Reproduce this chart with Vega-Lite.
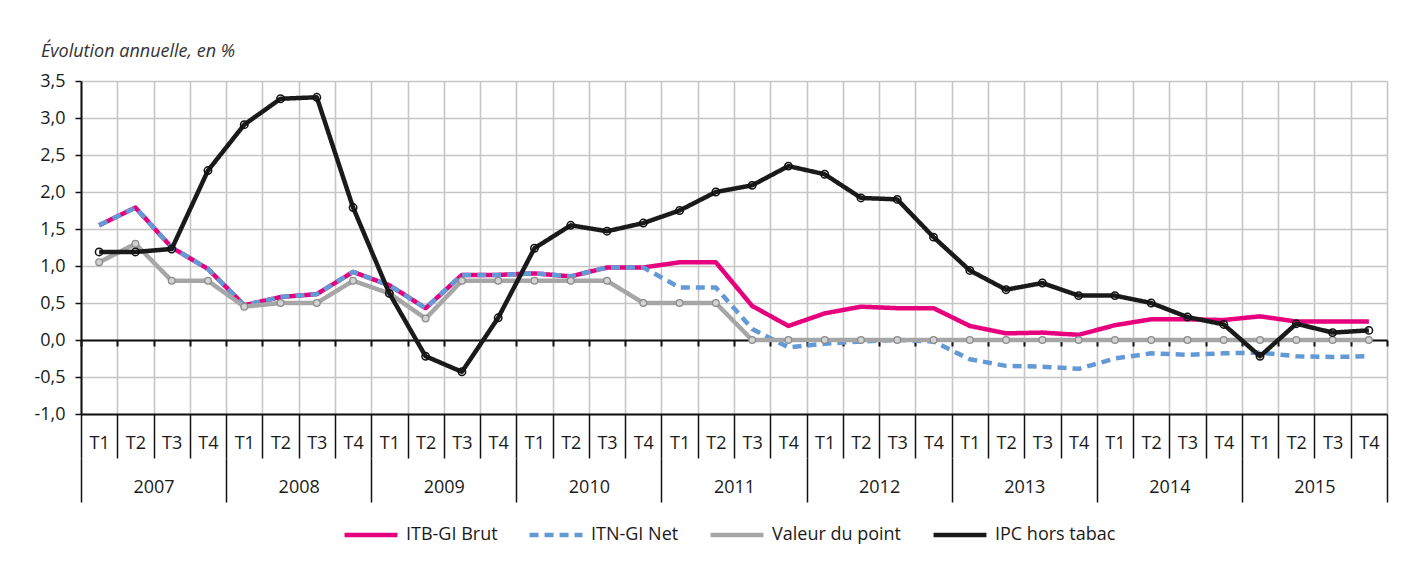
{
  "$schema": "https://vega.github.io/schema/vega-lite/v6.json",
  "width": 1306,
  "height": 333,
  "padding": {"left": 33, "top": 43, "right": 10, "bottom": 5},
  "background": "white",
  "title": {"text": "Évolution annuelle, en %", "anchor": "start", "frame": "bounds", "dx": 7, "fontStyle": "italic", "fontWeight": "normal", "fontSize": 18, "font": "Open Sans", "color": "#333333", "offset": 11},
  "data": {"values": [
    {"q":"2007-T1","yr":"2007","s":"ITB-GI Brut","v":1.55},{"q":"2007-T2","yr":"2007","s":"ITB-GI Brut","v":1.79},{"q":"2007-T3","yr":"2007","s":"ITB-GI Brut","v":1.25},{"q":"2007-T4","yr":"2007","s":"ITB-GI Brut","v":0.96},
    {"q":"2008-T1","yr":"2008","s":"ITB-GI Brut","v":0.47},{"q":"2008-T2","yr":"2008","s":"ITB-GI Brut","v":0.58},{"q":"2008-T3","yr":"2008","s":"ITB-GI Brut","v":0.62},{"q":"2008-T4","yr":"2008","s":"ITB-GI Brut","v":0.92},
    {"q":"2009-T1","yr":"2009","s":"ITB-GI Brut","v":0.74},{"q":"2009-T2","yr":"2009","s":"ITB-GI Brut","v":0.43},{"q":"2009-T3","yr":"2009","s":"ITB-GI Brut","v":0.88},{"q":"2009-T4","yr":"2009","s":"ITB-GI Brut","v":0.88},
    {"q":"2010-T1","yr":"2010","s":"ITB-GI Brut","v":0.90},{"q":"2010-T2","yr":"2010","s":"ITB-GI Brut","v":0.86},{"q":"2010-T3","yr":"2010","s":"ITB-GI Brut","v":0.98},{"q":"2010-T4","yr":"2010","s":"ITB-GI Brut","v":0.98},
    {"q":"2011-T1","yr":"2011","s":"ITB-GI Brut","v":1.05},{"q":"2011-T2","yr":"2011","s":"ITB-GI Brut","v":1.05},{"q":"2011-T3","yr":"2011","s":"ITB-GI Brut","v":0.46},{"q":"2011-T4","yr":"2011","s":"ITB-GI Brut","v":0.19},
    {"q":"2012-T1","yr":"2012","s":"ITB-GI Brut","v":0.36},{"q":"2012-T2","yr":"2012","s":"ITB-GI Brut","v":0.45},{"q":"2012-T3","yr":"2012","s":"ITB-GI Brut","v":0.43},{"q":"2012-T4","yr":"2012","s":"ITB-GI Brut","v":0.43},
    {"q":"2013-T1","yr":"2013","s":"ITB-GI Brut","v":0.19},{"q":"2013-T2","yr":"2013","s":"ITB-GI Brut","v":0.09},{"q":"2013-T3","yr":"2013","s":"ITB-GI Brut","v":0.10},{"q":"2013-T4","yr":"2013","s":"ITB-GI Brut","v":0.07},
    {"q":"2014-T1","yr":"2014","s":"ITB-GI Brut","v":0.20},{"q":"2014-T2","yr":"2014","s":"ITB-GI Brut","v":0.28},{"q":"2014-T3","yr":"2014","s":"ITB-GI Brut","v":0.28},{"q":"2014-T4","yr":"2014","s":"ITB-GI Brut","v":0.27},
    {"q":"2015-T1","yr":"2015","s":"ITB-GI Brut","v":0.32},{"q":"2015-T2","yr":"2015","s":"ITB-GI Brut","v":0.25},{"q":"2015-T3","yr":"2015","s":"ITB-GI Brut","v":0.25},{"q":"2015-T4","yr":"2015","s":"ITB-GI Brut","v":0.25},

    {"q":"2007-T1","yr":"2007","s":"ITN-GI Net","v":1.55},{"q":"2007-T2","yr":"2007","s":"ITN-GI Net","v":1.79},{"q":"2007-T3","yr":"2007","s":"ITN-GI Net","v":1.25},{"q":"2007-T4","yr":"2007","s":"ITN-GI Net","v":0.96},
    {"q":"2008-T1","yr":"2008","s":"ITN-GI Net","v":0.47},{"q":"2008-T2","yr":"2008","s":"ITN-GI Net","v":0.58},{"q":"2008-T3","yr":"2008","s":"ITN-GI Net","v":0.62},{"q":"2008-T4","yr":"2008","s":"ITN-GI Net","v":0.92},
    {"q":"2009-T1","yr":"2009","s":"ITN-GI Net","v":0.74},{"q":"2009-T2","yr":"2009","s":"ITN-GI Net","v":0.43},{"q":"2009-T3","yr":"2009","s":"ITN-GI Net","v":0.88},{"q":"2009-T4","yr":"2009","s":"ITN-GI Net","v":0.88},
    {"q":"2010-T1","yr":"2010","s":"ITN-GI Net","v":0.90},{"q":"2010-T2","yr":"2010","s":"ITN-GI Net","v":0.86},{"q":"2010-T3","yr":"2010","s":"ITN-GI Net","v":0.98},{"q":"2010-T4","yr":"2010","s":"ITN-GI Net","v":0.98},
    {"q":"2011-T1","yr":"2011","s":"ITN-GI Net","v":0.71},{"q":"2011-T2","yr":"2011","s":"ITN-GI Net","v":0.71},{"q":"2011-T3","yr":"2011","s":"ITN-GI Net","v":0.15},{"q":"2011-T4","yr":"2011","s":"ITN-GI Net","v":-0.10},
    {"q":"2012-T1","yr":"2012","s":"ITN-GI Net","v":-0.05},{"q":"2012-T2","yr":"2012","s":"ITN-GI Net","v":-0.02},{"q":"2012-T3","yr":"2012","s":"ITN-GI Net","v":0.00},{"q":"2012-T4","yr":"2012","s":"ITN-GI Net","v":-0.02},
    {"q":"2013-T1","yr":"2013","s":"ITN-GI Net","v":-0.26},{"q":"2013-T2","yr":"2013","s":"ITN-GI Net","v":-0.35},{"q":"2013-T3","yr":"2013","s":"ITN-GI Net","v":-0.36},{"q":"2013-T4","yr":"2013","s":"ITN-GI Net","v":-0.39},
    {"q":"2014-T1","yr":"2014","s":"ITN-GI Net","v":-0.25},{"q":"2014-T2","yr":"2014","s":"ITN-GI Net","v":-0.18},{"q":"2014-T3","yr":"2014","s":"ITN-GI Net","v":-0.20},{"q":"2014-T4","yr":"2014","s":"ITN-GI Net","v":-0.18},
    {"q":"2015-T1","yr":"2015","s":"ITN-GI Net","v":-0.17},{"q":"2015-T2","yr":"2015","s":"ITN-GI Net","v":-0.22},{"q":"2015-T3","yr":"2015","s":"ITN-GI Net","v":-0.23},{"q":"2015-T4","yr":"2015","s":"ITN-GI Net","v":-0.22},

    {"q":"2007-T1","yr":"2007","s":"Valeur du point","v":1.05},{"q":"2007-T2","yr":"2007","s":"Valeur du point","v":1.3},{"q":"2007-T3","yr":"2007","s":"Valeur du point","v":0.8},{"q":"2007-T4","yr":"2007","s":"Valeur du point","v":0.8},
    {"q":"2008-T1","yr":"2008","s":"Valeur du point","v":0.45},{"q":"2008-T2","yr":"2008","s":"Valeur du point","v":0.5},{"q":"2008-T3","yr":"2008","s":"Valeur du point","v":0.5},{"q":"2008-T4","yr":"2008","s":"Valeur du point","v":0.8},
    {"q":"2009-T1","yr":"2009","s":"Valeur du point","v":0.63},{"q":"2009-T2","yr":"2009","s":"Valeur du point","v":0.29},{"q":"2009-T3","yr":"2009","s":"Valeur du point","v":0.8},{"q":"2009-T4","yr":"2009","s":"Valeur du point","v":0.8},
    {"q":"2010-T1","yr":"2010","s":"Valeur du point","v":0.8},{"q":"2010-T2","yr":"2010","s":"Valeur du point","v":0.8},{"q":"2010-T3","yr":"2010","s":"Valeur du point","v":0.8},{"q":"2010-T4","yr":"2010","s":"Valeur du point","v":0.5},
    {"q":"2011-T1","yr":"2011","s":"Valeur du point","v":0.5},{"q":"2011-T2","yr":"2011","s":"Valeur du point","v":0.5},{"q":"2011-T3","yr":"2011","s":"Valeur du point","v":0},{"q":"2011-T4","yr":"2011","s":"Valeur du point","v":0},
    {"q":"2012-T1","yr":"2012","s":"Valeur du point","v":0},{"q":"2012-T2","yr":"2012","s":"Valeur du point","v":0},{"q":"2012-T3","yr":"2012","s":"Valeur du point","v":0},{"q":"2012-T4","yr":"2012","s":"Valeur du point","v":0},
    {"q":"2013-T1","yr":"2013","s":"Valeur du point","v":0},{"q":"2013-T2","yr":"2013","s":"Valeur du point","v":0},{"q":"2013-T3","yr":"2013","s":"Valeur du point","v":0},{"q":"2013-T4","yr":"2013","s":"Valeur du point","v":0},
    {"q":"2014-T1","yr":"2014","s":"Valeur du point","v":0},{"q":"2014-T2","yr":"2014","s":"Valeur du point","v":0},{"q":"2014-T3","yr":"2014","s":"Valeur du point","v":0},{"q":"2014-T4","yr":"2014","s":"Valeur du point","v":0},
    {"q":"2015-T1","yr":"2015","s":"Valeur du point","v":0},{"q":"2015-T2","yr":"2015","s":"Valeur du point","v":0},{"q":"2015-T3","yr":"2015","s":"Valeur du point","v":0},{"q":"2015-T4","yr":"2015","s":"Valeur du point","v":0},

    {"q":"2007-T1","yr":"2007","s":"IPC hors tabac","v":1.19},{"q":"2007-T2","yr":"2007","s":"IPC hors tabac","v":1.19},{"q":"2007-T3","yr":"2007","s":"IPC hors tabac","v":1.23},{"q":"2007-T4","yr":"2007","s":"IPC hors tabac","v":2.29},
    {"q":"2008-T1","yr":"2008","s":"IPC hors tabac","v":2.91},{"q":"2008-T2","yr":"2008","s":"IPC hors tabac","v":3.26},{"q":"2008-T3","yr":"2008","s":"IPC hors tabac","v":3.28},{"q":"2008-T4","yr":"2008","s":"IPC hors tabac","v":1.79},
    {"q":"2009-T1","yr":"2009","s":"IPC hors tabac","v":0.63},{"q":"2009-T2","yr":"2009","s":"IPC hors tabac","v":-0.22},{"q":"2009-T3","yr":"2009","s":"IPC hors tabac","v":-0.43},{"q":"2009-T4","yr":"2009","s":"IPC hors tabac","v":0.30},
    {"q":"2010-T1","yr":"2010","s":"IPC hors tabac","v":1.24},{"q":"2010-T2","yr":"2010","s":"IPC hors tabac","v":1.55},{"q":"2010-T3","yr":"2010","s":"IPC hors tabac","v":1.47},{"q":"2010-T4","yr":"2010","s":"IPC hors tabac","v":1.58},
    {"q":"2011-T1","yr":"2011","s":"IPC hors tabac","v":1.75},{"q":"2011-T2","yr":"2011","s":"IPC hors tabac","v":2.00},{"q":"2011-T3","yr":"2011","s":"IPC hors tabac","v":2.09},{"q":"2011-T4","yr":"2011","s":"IPC hors tabac","v":2.35},
    {"q":"2012-T1","yr":"2012","s":"IPC hors tabac","v":2.24},{"q":"2012-T2","yr":"2012","s":"IPC hors tabac","v":1.92},{"q":"2012-T3","yr":"2012","s":"IPC hors tabac","v":1.90},{"q":"2012-T4","yr":"2012","s":"IPC hors tabac","v":1.39},
    {"q":"2013-T1","yr":"2013","s":"IPC hors tabac","v":0.94},{"q":"2013-T2","yr":"2013","s":"IPC hors tabac","v":0.68},{"q":"2013-T3","yr":"2013","s":"IPC hors tabac","v":0.77},{"q":"2013-T4","yr":"2013","s":"IPC hors tabac","v":0.60},
    {"q":"2014-T1","yr":"2014","s":"IPC hors tabac","v":0.60},{"q":"2014-T2","yr":"2014","s":"IPC hors tabac","v":0.50},{"q":"2014-T3","yr":"2014","s":"IPC hors tabac","v":0.31},{"q":"2014-T4","yr":"2014","s":"IPC hors tabac","v":0.21},
    {"q":"2015-T1","yr":"2015","s":"IPC hors tabac","v":-0.22},{"q":"2015-T2","yr":"2015","s":"IPC hors tabac","v":0.22},{"q":"2015-T3","yr":"2015","s":"IPC hors tabac","v":0.10},{"q":"2015-T4","yr":"2015","s":"IPC hors tabac","v":0.13}
  ]},
  "layer": [
    {
      "encoding": {
        "x": {"field": "q", "type": "ordinal", "scale": {"type": "band", "paddingInner": 0, "paddingOuter": 0}, "axis": null},
        "y": {"field": "v", "type": "quantitative", "title": null,
              "scale": {"domain": [-1, 3.5], "nice": false, "zero": false},
              "axis": {"values": [-1, -0.5, 0, 0.5, 1, 1.5, 2, 2.5, 3, 3.5], "format": ".1f", "title": null,
                       "grid": true, "gridColor": "#c6c6c6", "gridWidth": 1.6,
                       "domain": true, "domainColor": "#111111", "domainWidth": 2,
                       "ticks": true, "tickColor": "#111111", "tickSize": 6, "tickWidth": 1.5,
                       "labelFont": "Open Sans", "labelFontSize": 18, "labelColor": "#1a1a1a", "labelPadding": 10}}
      },
      "layer": [
        {
          "transform": [{"filter": "datum.s === 'ITB-GI Brut'"}],
          "mark": {"type": "line", "strokeJoin": "round"},
          "encoding": {
            "x": {"field": "q", "type": "ordinal", "scale": {"type": "band", "paddingInner": 0, "paddingOuter": 0},
                  "axis": {"orient": "bottom", "title": null, "tickBand": "extent", "labelExpr": "split(datum.value, '-')[1]",
                           "grid": true, "gridColor": "#c6c6c6", "gridWidth": 1.6,
                           "domain": true, "domainColor": "#111111", "domainWidth": 2,
                           "ticks": true, "tickColor": "#111111", "tickSize": 44, "tickWidth": 1.5,
                           "labelAngle": 0, "labelBaseline": "middle", "labelPadding": -15,
                           "labelFont": "Open Sans", "labelFontSize": 18, "labelColor": "#1a1a1a"}},
            "color": {"field": "s", "type": "nominal",
                      "scale": {"domain": ["ITB-GI Brut", "ITN-GI Net", "Valeur du point", "IPC hors tabac"], "range": ["#e6007e", "#639ad6", "#a6a6a6", "#1a1a1a"]},
                      "legend": {"title": null}},
            "strokeDash": {"field": "s", "type": "nominal",
                      "scale": {"domain": ["ITB-GI Brut", "ITN-GI Net", "Valeur du point", "IPC hors tabac"], "range": [[1, 0], [9, 6], [1, 0], [1, 0]]},
                      "legend": {"title": null}},
            "strokeWidth": {"field": "s", "type": "ordinal",
                      "scale": {"domain": ["ITB-GI Brut", "ITN-GI Net", "Valeur du point", "IPC hors tabac"], "range": [4.5, 4.5, 2.6, 2.6]},
                      "legend": {"title": null}}
          }
        },
        {
          "transform": [{"filter": "datum.s === 'ITN-GI Net'"}],
          "mark": {"type": "line", "strokeJoin": "round"},
          "encoding": {
            "x": {"field": "q", "type": "ordinal", "scale": {"type": "band", "paddingInner": 0, "paddingOuter": 0},
                  "axis": {"orient": "bottom", "offset": -74, "title": null, "tickBand": "extent", "labels": false, "grid": false,
                           "domain": true, "domainColor": "#111111", "domainWidth": 2,
                           "ticks": true, "tickColor": "#111111", "tickSize": 6, "tickWidth": 2}},
            "color": {"field": "s", "type": "nominal", "legend": {"title": null}},
            "strokeDash": {"field": "s", "type": "nominal", "legend": {"title": null}},
            "strokeWidth": {"field": "s", "type": "ordinal", "legend": {"title": null}}
          }
        },
        {
          "transform": [{"filter": "datum.s === 'Valeur du point'"}],
          "mark": {"type": "line", "strokeJoin": "round"},
          "encoding": {
            "color": {"field": "s", "type": "nominal", "legend": {"title": null}},
            "strokeDash": {"field": "s", "type": "nominal", "legend": {"title": null}},
            "strokeWidth": {"field": "s", "type": "ordinal", "legend": {"title": null}}
          }
        },
        {
          "transform": [{"filter": "datum.s === 'Valeur du point'"}],
          "mark": {"type": "point", "shape": "circle", "filled": true, "fill": "#d2d2d2", "stroke": "#8c8c8c", "strokeWidth": 1.3, "size": 45, "opacity": 1}
        },
        {
          "transform": [{"filter": "datum.s === 'IPC hors tabac'"}],
          "mark": {"type": "line", "strokeJoin": "round"},
          "encoding": {
            "color": {"field": "s", "type": "nominal", "legend": {"title": null}},
            "strokeDash": {"field": "s", "type": "nominal", "legend": {"title": null}},
            "strokeWidth": {"field": "s", "type": "ordinal", "legend": {"title": null}}
          }
        },
        {
          "transform": [{"filter": "datum.s === 'IPC hors tabac'"}],
          "mark": {"type": "point", "shape": "circle", "filled": false, "stroke": "#111111", "strokeWidth": 1.5, "size": 55, "opacity": 1}
        }
      ],
      "resolve": {"axis": {"x": "independent"}}
    },
    {
      "transform": [{"filter": "datum.s === 'ITB-GI Brut'"}],
      "mark": {"type": "point", "opacity": 0},
      "encoding": {
        "x": {"field": "yr", "type": "ordinal", "scale": {"type": "band", "paddingInner": 0, "paddingOuter": 0},
              "axis": {"orient": "bottom", "offset": 44, "title": null, "tickBand": "extent", "grid": false, "domain": false,
                       "ticks": true, "tickColor": "#111111", "tickSize": 44, "tickWidth": 1.5,
                       "labelAngle": 0, "labelBaseline": "middle", "labelPadding": -15,
                       "labelFont": "Open Sans", "labelFontSize": 18, "labelColor": "#1a1a1a"}}
      }
    }
  ],
  "resolve": {"scale": {"x": "independent"}},
  "config": {
    "view": {"stroke": null},
    "locale": {"number": {"decimal": ",", "thousands": " ", "grouping": [3], "currency": ["", " €"], "minus": "-"}},
    "legend": {"orient": "none", "legendX": 261, "legendY": 425, "direction": "horizontal", "columns": 4,
               "symbolType": "stroke", "symbolSize": 2800, "labelFont": "Open Sans", "labelFontSize": 18,
               "labelColor": "#1a1a1a", "columnPadding": 22, "labelOffset": 6, "labelLimit": 400}
  }
}
